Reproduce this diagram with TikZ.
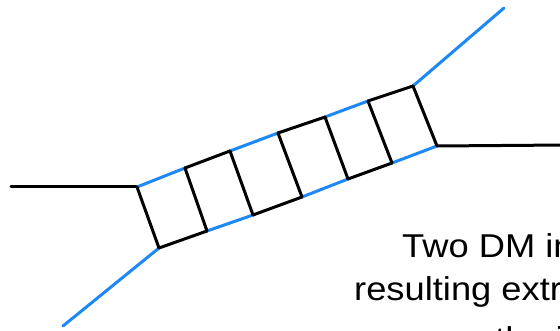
\documentclass[tikz,border=0pt]{standalone}
\usepackage{fontspec}
\newfontfamily\notefont[FakeStretch=1.1]{Liberation Sans}
\definecolor{dmblue}{RGB}{30,136,245}
\tikzset{
  rail/.style={line width=3pt, line cap=round},
  dm/.style={rail, draw=dmblue},
  sm/.style={rail, draw=black},
  note/.style={anchor=base west, inner sep=0pt, font=\notefont\fontsize{33}{40}\selectfont}
}
\begin{document}
\begin{tikzpicture}[x=1pt, y=-1pt]
      \useasboundingbox (0,0) rectangle (560,331);
      \clip (0,0) rectangle (560,331);
      \draw
        (137,187) coordinate (t0)
        (185,168) coordinate (t1)
        (230,151) coordinate (t2)
        (278,133) coordinate (t3)
        (325,117) coordinate (t4)
        (368,101) coordinate (t5)
        (413,86) coordinate (t6)
        (159,248) coordinate (b0)
        (207,231) coordinate (b1)
        (253,215) coordinate (b2)
        (302,197) coordinate (b3)
        (348,179) coordinate (b4)
        (392,163) coordinate (b5)
        (437,146) coordinate (b6)
        (11,187) coordinate (inL)
        (566,145) coordinate (outR)
        (63,326) coordinate (inB)
        (504,8) coordinate (outT);
      % outer legs
      \draw[sm] (inL) to (t0);
      \draw[sm] (b6) to (outR);
      \draw[dm] (inB) to (b0);
      \draw[dm] (t6) to (outT);
      % top rail
      \begin{scope}[-]
        \draw[dm] (t0) to (t1);
        \draw[sm] (t1) to (t2);
        \draw[dm] (t2) to (t3);
        \draw[sm] (t3) to (t4);
        \draw[dm] (t4) to (t5);
        \draw[sm] (t5) to (t6);
      \end{scope}
      % bottom rail
      \begin{scope}[-]
        \draw[sm] (b0) to (b1);
        \draw[dm] (b1) to (b2);
        \draw[sm] (b2) to (b3);
        \draw[dm] (b3) to (b4);
        \draw[sm] (b4) to (b5);
        \draw[dm] (b5) to (b6);
      \end{scope}
      % rungs
      \begin{scope}[sm]
        \draw (t0) to (b0);
        \draw (t1) to (b1);
        \draw (t2) to (b2);
        \draw (t3) to (b3);
        \draw (t4) to (b4);
        \draw (t5) to (b5);
        \draw (t6) to (b6);
      \end{scope}
      \node[note] (line1) at (402,258) {Two DM in};
      \node[note] (line2) at (354,301) {resulting extr};
      \node[note] (line3) at (495,350) {the i};
    \end{tikzpicture}
\end{document}
